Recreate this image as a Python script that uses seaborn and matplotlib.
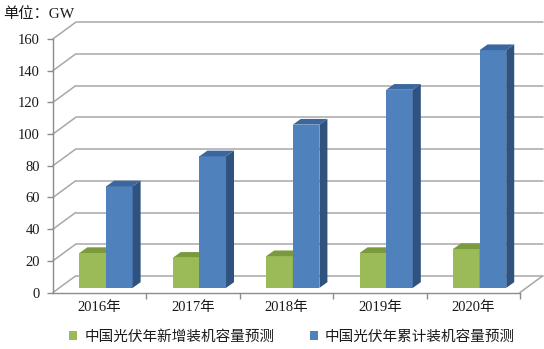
import matplotlib
matplotlib.use("Agg")
import matplotlib.pyplot as plt
from matplotlib.patches import Polygon, Patch
import seaborn as sns
import pandas as pd

years = ["2016年", "2017年", "2018年", "2019年", "2020年"]
new_capacity = [22, 19, 20, 22, 24.5]
cum_capacity = [64, 83, 103, 125, 150]
series_names = ["中国光伏年新增装机容量预测", "中国光伏年累计装机容量预测"]
y_ticks = [0, 20, 40, 60, 80, 100, 120, 140, 160]
unit_label = "单位：GW"

df = pd.DataFrame({
    "year": years * 2,
    "value": new_capacity + cum_capacity,
    "series": [series_names[0]] * len(years) + [series_names[1]] * len(years),
})

sns.set_style("white")
plt.rcParams["font.family"] = ["Liberation Serif", "Noto Sans CJK SC", "DejaVu Sans"]

W, H = 544, 349
fig = plt.figure(figsize=(W / 100, H / 100), dpi=100)
ax_l, ax_r, ax_b, ax_t = 53, 520, 292.5, 38.9
ax = fig.add_axes([ax_l / W, (H - ax_b) / H, (ax_r - ax_l) / W, (ax_b - ax_t) / H])

front_cols = ["#9BBB59", "#4F81BD"]
top_cols = ["#7A9A3E", "#3B679E"]
side_cols = ["#6E8C35", "#2F527F"]

sns.barplot(data=df, x="year", y="value", hue="series", hue_order=series_names,
            palette=front_cols, saturation=1, width=0.57, legend=False, ax=ax,
            edgecolor="none")
ax.set_xlim(-0.5, 4.5)
ax.set_ylim(0, 160)

px_x = (ax_r - ax_l) / 5.0
px_y = (ax_b - ax_t) / 160.0
wall_dx = 22.5 / px_x
wall_dy = 16.5 / px_y
bar_dx = 8.0 / px_x
bar_dy = 5.7 / px_y
depth = 0.28

gcol = "#a8a8a8"
# back wall gridlines and left wall diagonals
for v in y_ticks:
    ax.plot([-0.5, -0.5 + wall_dx], [v, v + wall_dy], color=gcol, lw=1.1,
            clip_on=False, zorder=0.5)
    ax.plot([-0.5 + wall_dx, 4.5 + wall_dx], [v + wall_dy, v + wall_dy],
            color=gcol, lw=1.1, clip_on=False, zorder=0.5)
# floor right edge
ax.plot([4.5, 4.5 + wall_dx], [0, wall_dy], color=gcol, lw=1.1, clip_on=False, zorder=0.5)

for k, cont in enumerate(ax.containers):
    for p in cont.patches:
        x0 = p.get_x() + depth * wall_dx
        y0 = depth * wall_dy
        w = p.get_width()
        h = p.get_height()
        p.set_x(x0)
        p.set_y(y0)
        p.set_clip_on(False)
        p.set_zorder(2 + k)
        top = Polygon([(x0, y0 + h), (x0 + w, y0 + h), (x0 + w + bar_dx, y0 + h + bar_dy),
                       (x0 + bar_dx, y0 + h + bar_dy)], closed=True,
                      facecolor=top_cols[k], edgecolor="none", clip_on=False, zorder=2 + k)
        side = Polygon([(x0 + w, y0), (x0 + w + bar_dx, y0 + bar_dy),
                        (x0 + w + bar_dx, y0 + h + bar_dy), (x0 + w, y0 + h)], closed=True,
                       facecolor=side_cols[k], edgecolor="none", clip_on=False, zorder=2 + k)
        ax.add_patch(top)
        ax.add_patch(side)

for s in ["top", "right"]:
    ax.spines[s].set_visible(False)
for s in ["left", "bottom"]:
    ax.spines[s].set_color("#8c8c8c")
    ax.spines[s].set_linewidth(1.0)
    ax.spines[s].set_zorder(1)

ax.set_yticks(y_ticks)
ax.set_yticklabels([str(v) for v in y_ticks])
ax.tick_params(axis="y", direction="out", length=4, width=1, color="#8c8c8c",
               pad=5.5, labelsize=10.5, labelcolor="#1a1a1a", left=True)
ax.set_xticks(range(len(years)))
ax.set_xticklabels(years)
ax.set_xticks([i + 0.5 for i in range(len(years))], minor=True)
ax.tick_params(axis="x", which="major", length=0, pad=6, labelsize=10.5, labelcolor="#1a1a1a")
ax.tick_params(axis="x", which="minor", direction="out", length=4, width=1,
               color="#8c8c8c", bottom=True)
ax.set_xlabel("")
ax.set_ylabel("")

fig.text(3 / W, 1 - 14 / H, unit_label, fontsize=11, color="#1a1a1a", va="center", ha="left",
         family=["Liberation Serif", "Noto Sans CJK SC"])

handles = [Patch(facecolor=front_cols[0], edgecolor="none"),
           Patch(facecolor=front_cols[1], edgecolor="none")]
fig.legend(handles, series_names, loc="center", bbox_to_anchor=(292 / W, 1 - 337 / H),
           ncol=2, frameon=False, handlelength=0.55, handleheight=0.55, handletextpad=0.5,
           columnspacing=2.4, prop={"family": ["Noto Sans CJK SC", "DejaVu Sans"], "size": 10.5},
           labelcolor="#1a1a1a")

fig.savefig("out.png", dpi=100)
